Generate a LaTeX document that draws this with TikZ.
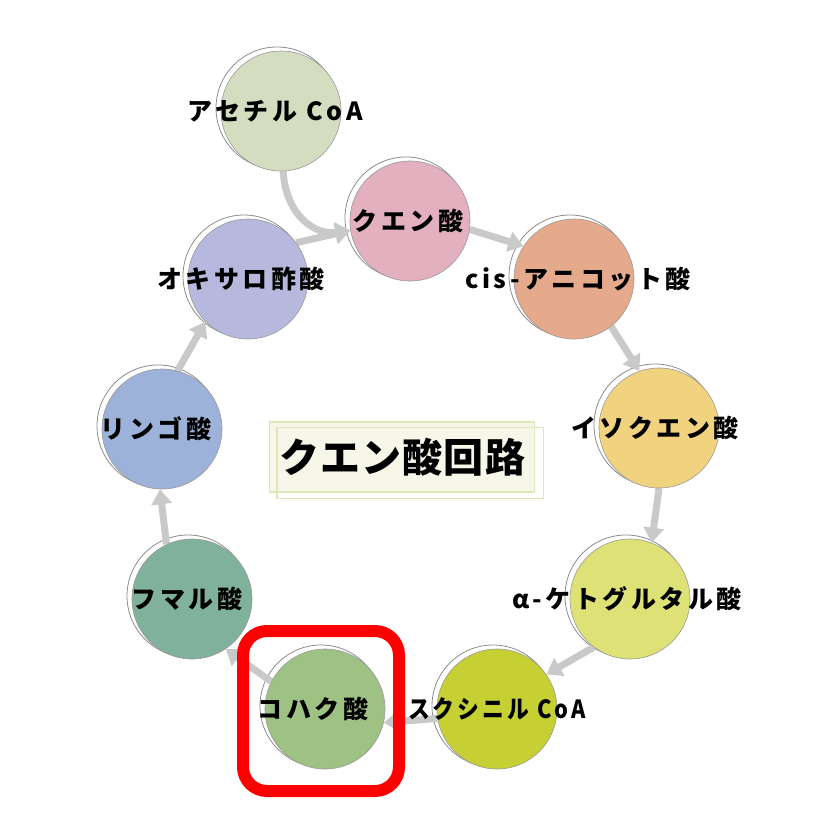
\documentclass[tikz,border=0pt]{standalone}
\usepackage{fontspec}
\usepackage{xcolor}
\usepackage{tikz}
\usetikzlibrary{arrows.meta,backgrounds}
\newfontfamily\jpfont[LetterSpace=14]{Noto Sans CJK JP}
\definecolor{acetylgreen}{HTML}{D5DDC0}
\definecolor{citratepink}{HTML}{E2B0BF}
\definecolor{cissalmon}{HTML}{E5AA8B}
\definecolor{isogold}{HTML}{F1D27F}
\definecolor{ketoyellow}{HTML}{DDE176}
\definecolor{succoalime}{HTML}{C6D033}
\definecolor{succingreen}{HTML}{9DC283}
\definecolor{fumarteal}{HTML}{80B19C}
\definecolor{malateblue}{HTML}{9CB2D9}
\definecolor{oxalolavender}{HTML}{B6B9DD}
\definecolor{arrowgray}{HTML}{C9C9C9}
\definecolor{titlecream}{HTML}{F6F6E9}
\definecolor{titleline}{HTML}{E0E6B6}
\tikzset{
  acid/.style={circle, minimum size=120pt, inner sep=0pt, fill=#1, draw=black!40, line width=0.6pt},
  acidring/.style={fill=white, draw=black!45, line width=0.8pt},
  lbl/.style={font=\jpfont\bfseries\fontsize{25pt}{30pt}\selectfont, inner sep=0pt},
  cyclearrow/.style={draw=arrowgray, line width=7pt, -{Triangle[length=15pt,width=20pt]}}
}

\begin{document}
\begin{tikzpicture}[x=1pt,y=-1pt]
\useasboundingbox (0,0) rectangle (820,820);
\node[acid=acetylgreen, label={[lbl,xshift=-6pt]center:アセチル CoA}] (acetyl) at (281,111) {};
\node[acid=citratepink, label={[lbl,xshift=-2pt]center:クエン酸}] (citrate) at (410,221) {};
\node[acid=cissalmon, label={[lbl,xshift=4pt]center:cis-アニコット酸}] (cisacon) at (574,279) {};
\node[acid=isogold, label={[lbl,xshift=-4pt]center:イソクエン酸}] (isocit) at (659,428) {};
\node[acid=ketoyellow, label={[lbl,xshift=-3pt]center:α-ケトグルタル酸}] (ketoglu) at (630,599) {};
\node[acid=succoalime, label={[lbl,xscale=0.87]center:スクシニル CoA}] (succoa) at (497,709) {};
\node[acid=succingreen, label={[lbl,xshift=-12pt]center:コハク酸}] (succin) at (325,709) {};
\node[acid=fumarteal, label={[lbl,xshift=-5pt]center:フマル酸}] (fumar) at (192,599) {};
\node[acid=malateblue, label={[lbl,xshift=-6pt]center:リンゴ酸}] (malate) at (162,429) {};
\node[acid=oxalolavender, label={[lbl,xshift=-7pt]center:オキサロ酢酸}] (oxalo) at (248,279) {};
\begin{scope}[on background layer]
\foreach \n in {acetyl,citrate,cisacon,isocit,ketoglu,succoa,succin,fumar,malate,oxalo}
  \draw[acidring] ([shift={(-4,-3)}]\n.center) circle (61);
\draw[cyclearrow] (acetyl.272) .. controls +(3,45) and +(-35,5) .. (citrate.189);
\draw[cyclearrow] (oxalo.37) -- (citrate.189);
\draw[cyclearrow] (citrate.-8) -- (cisacon.147);
\draw[cyclearrow] (cisacon.-52) -- (isocit.109);
\draw[cyclearrow] (isocit.-90) -- (ketoglu.69);
\draw[cyclearrow] (ketoglu.-127) -- (succoa.35);
\draw[cyclearrow] (succoa.189) -- (succin.-13);
\draw[cyclearrow] (succin.153) -- (fumar.-56);
\draw[cyclearrow] (fumar.115) -- (malate.-92);
\draw[cyclearrow] (malate.75) -- (oxalo.-135);
\end{scope}
\node[fill=titlecream, draw=titleline, line width=1.2pt, minimum width=265pt, minimum height=70pt,
  font=\jpfont\addfontfeature{LetterSpace=3}\bfseries\fontsize{40pt}{44pt}\selectfont] (title) at (402,457) {クエン酸回路};
\draw[titleline, line width=1.2pt] ([shift={(8,6)}]title.north west) rectangle ([shift={(8,6)}]title.south east);
\node[draw=red, line width=12pt, rounded corners=24pt, minimum width=156pt, minimum height=160pt] (highlight) at (321,711) {};
\end{tikzpicture}
\end{document}
